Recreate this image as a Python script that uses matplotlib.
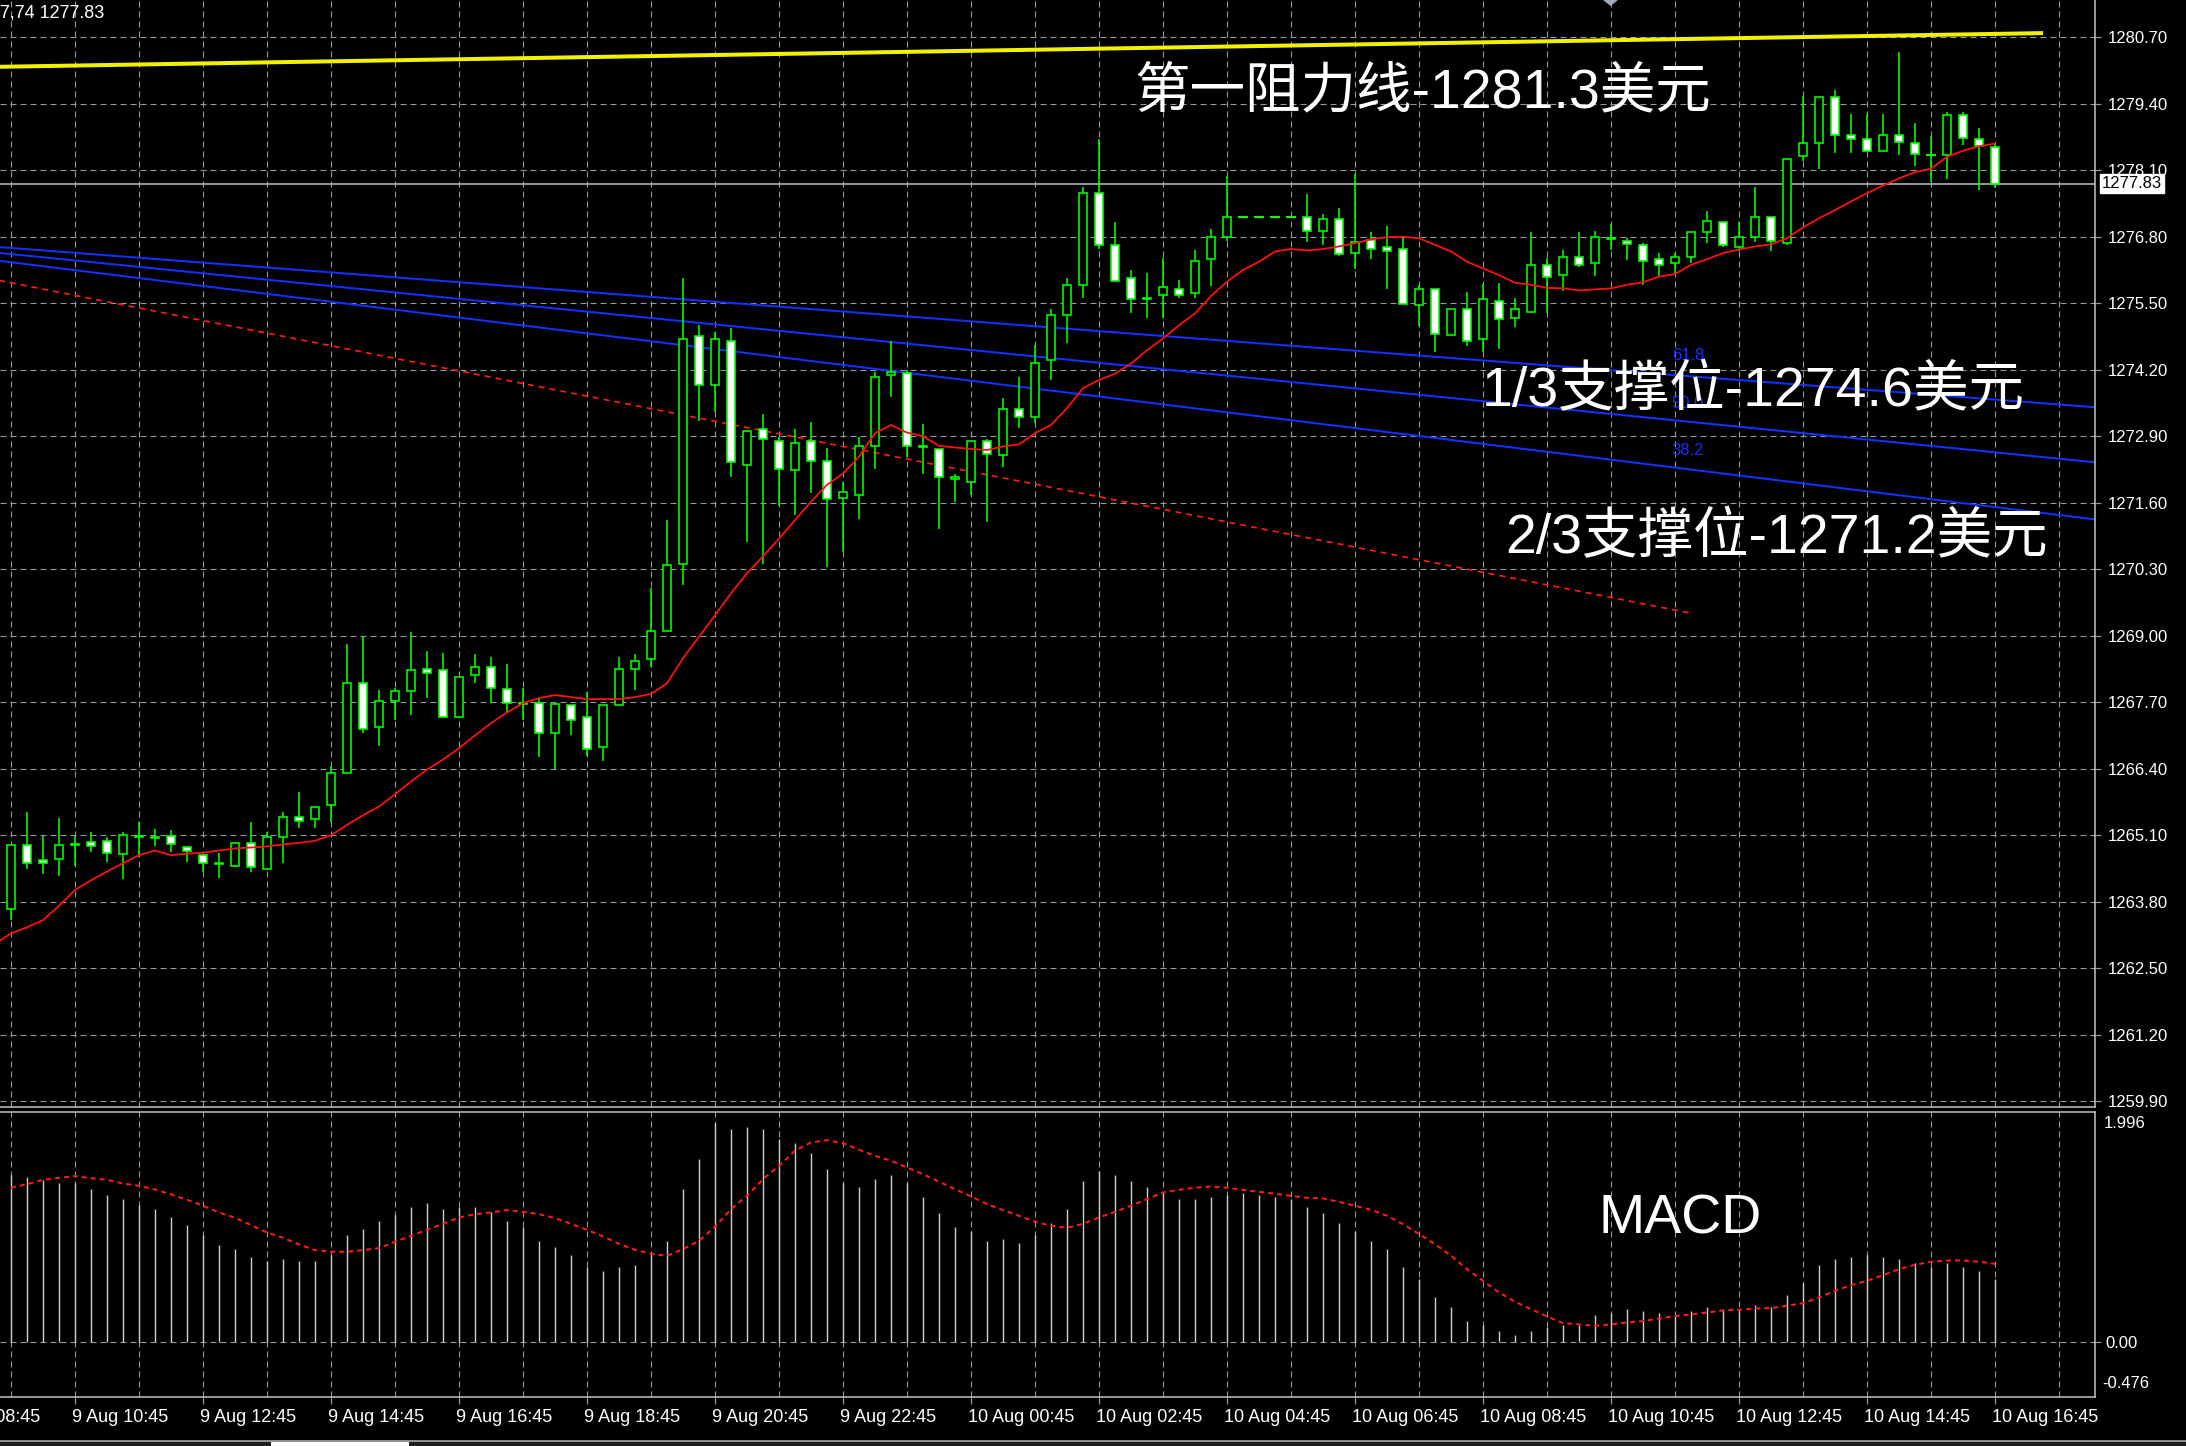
import numpy as np
import matplotlib
matplotlib.use("Agg")
import matplotlib.pyplot as plt
import matplotlib.transforms as mtransforms
from matplotlib.patches import Rectangle, Polygon

# ---------------------------------------------------------------- data
opens = [1263.66, 1264.91, 1264.61, 1264.63, 1264.92, 1264.97, 1264.99, 1264.74, 1265.08, 1265.07,
         1265.09, 1264.87, 1264.71, 1264.56, 1264.50, 1264.95, 1264.43, 1265.06, 1265.46, 1265.42,
         1265.69, 1266.32, 1268.08, 1267.21, 1267.73, 1267.92, 1268.35, 1268.32, 1267.42, 1268.23,
         1268.39, 1267.96, 1267.68, 1267.68, 1267.10, 1267.64, 1267.42, 1266.83, 1267.64, 1268.35,
         1268.54, 1269.10, 1270.41, 1274.85, 1273.90, 1274.77, 1272.34, 1273.04, 1272.81, 1272.23,
         1272.81, 1272.42, 1271.70, 1271.75, 1272.70, 1274.10, 1274.14, 1272.71, 1272.65, 1272.07,
         1272.01, 1272.81, 1272.53, 1273.43, 1273.28, 1274.39, 1275.27, 1275.86, 1277.66, 1276.64,
         1275.99, 1275.60, 1275.66, 1275.78, 1275.69, 1276.36, 1276.79, 1277.19, 1277.19, 1277.19,
         1277.19, 1277.19, 1276.91, 1277.15, 1276.48, 1276.73, 1276.60, 1276.56, 1275.46, 1275.77,
         1274.88, 1275.39, 1274.80, 1275.54, 1275.22, 1275.33, 1276.25, 1276.05, 1276.40, 1276.28,
         1276.75, 1276.72, 1276.64, 1276.36, 1276.28, 1276.41, 1276.89, 1277.08, 1276.59, 1276.80,
         1277.19, 1276.67, 1278.37, 1278.64, 1279.53, 1278.79, 1278.71, 1278.48, 1278.79, 1278.64,
         1278.40, 1278.40, 1279.18, 1278.71, 1278.56]
highs = [1264.91, 1265.55, 1265.08, 1265.43, 1265.10, 1265.16, 1265.07, 1265.16, 1265.35, 1265.22,
         1265.20, 1264.87, 1264.71, 1264.76, 1264.95, 1265.35, 1265.16, 1265.55, 1265.94, 1265.66,
         1266.46, 1268.83, 1268.99, 1267.94, 1267.98, 1269.07, 1268.71, 1268.67, 1268.20, 1268.64,
         1268.59, 1268.44, 1267.97, 1267.78, 1267.69, 1267.64, 1267.89, 1267.64, 1268.59, 1268.64,
         1269.93, 1271.26, 1275.99, 1275.07, 1274.93, 1275.01, 1273.00, 1273.33, 1272.89, 1273.05,
         1273.17, 1272.66, 1272.01, 1272.89, 1274.16, 1274.77, 1274.19, 1273.13, 1272.65, 1272.17,
         1272.81, 1272.85, 1273.64, 1274.06, 1274.68, 1275.39, 1275.99, 1277.78, 1278.71, 1277.08,
         1276.15, 1276.10, 1276.38, 1275.95, 1276.54, 1276.96, 1277.99, 1277.19, 1277.19, 1277.19,
         1277.19, 1277.63, 1277.24, 1277.36, 1278.03, 1276.90, 1277.00, 1276.77, 1275.86, 1275.77,
         1275.39, 1275.71, 1275.87, 1275.90, 1275.60, 1276.89, 1276.38, 1276.54, 1276.89, 1276.92,
         1277.05, 1276.77, 1276.68, 1276.49, 1276.49, 1276.89, 1277.31, 1277.08, 1277.08, 1277.78,
         1277.19, 1278.32, 1279.55, 1279.54, 1279.66, 1279.19, 1279.19, 1279.19, 1280.41, 1279.03,
         1278.76, 1279.23, 1279.23, 1278.92, 1278.62]
lows = [1263.45, 1264.43, 1264.35, 1264.31, 1264.50, 1264.78, 1264.58, 1264.24, 1264.67, 1264.88,
        1264.78, 1264.58, 1264.39, 1264.27, 1264.47, 1264.39, 1264.43, 1264.55, 1265.25, 1265.25,
        1265.36, 1266.32, 1267.09, 1266.85, 1267.35, 1267.44, 1267.79, 1267.42, 1267.42, 1268.07,
        1267.68, 1267.48, 1267.35, 1266.63, 1266.40, 1267.06, 1266.65, 1266.56, 1267.64, 1267.94,
        1268.38, 1269.10, 1269.99, 1273.20, 1273.38, 1272.10, 1270.84, 1270.41, 1271.54, 1271.35,
        1271.78, 1270.34, 1270.63, 1271.28, 1272.25, 1273.66, 1272.50, 1272.17, 1271.08, 1271.62,
        1271.75, 1271.23, 1272.29, 1273.07, 1273.15, 1273.99, 1274.72, 1275.61, 1276.56, 1275.94,
        1275.30, 1275.22, 1275.22, 1275.61, 1275.61, 1275.84, 1276.72, 1277.19, 1277.19, 1277.19,
        1277.19, 1276.70, 1276.63, 1276.43, 1276.16, 1276.36, 1275.77, 1275.48, 1275.06, 1274.55,
        1274.88, 1274.67, 1274.55, 1274.60, 1275.03, 1275.30, 1275.31, 1275.74, 1276.20, 1276.04,
        1276.54, 1276.35, 1275.86, 1276.02, 1276.05, 1276.28, 1276.68, 1276.59, 1276.53, 1276.70,
        1276.52, 1276.64, 1278.28, 1278.12, 1278.43, 1278.43, 1278.48, 1278.48, 1278.39, 1278.19,
        1277.87, 1277.93, 1278.59, 1277.71, 1277.75]
closes = [1264.91, 1264.55, 1264.56, 1264.91, 1264.90, 1264.89, 1264.76, 1265.10, 1265.06, 1265.05,
          1264.92, 1264.80, 1264.55, 1264.54, 1264.95, 1264.48, 1265.07, 1265.46, 1265.38, 1265.66,
          1266.32, 1268.08, 1267.18, 1267.72, 1267.92, 1268.32, 1268.28, 1267.42, 1268.20, 1268.39,
          1267.97, 1267.69, 1267.66, 1267.10, 1267.66, 1267.36, 1266.78, 1267.64, 1268.35, 1268.50,
          1269.10, 1270.38, 1274.80, 1273.90, 1274.80, 1272.39, 1273.00, 1272.84, 1272.26, 1272.77,
          1272.42, 1271.67, 1271.80, 1272.70, 1274.06, 1274.16, 1272.70, 1272.69, 1272.10, 1272.11,
          1272.81, 1272.56, 1273.43, 1273.28, 1274.34, 1275.27, 1275.86, 1277.66, 1276.64, 1275.94,
          1275.58, 1275.58, 1275.82, 1275.66, 1276.32, 1276.79, 1277.19, 1277.19, 1277.19, 1277.19,
          1277.19, 1276.91, 1277.15, 1276.46, 1276.69, 1276.56, 1276.53, 1275.48, 1275.78, 1274.89,
          1275.39, 1274.76, 1275.58, 1275.19, 1275.39, 1276.25, 1276.02, 1276.41, 1276.25, 1276.80,
          1276.77, 1276.65, 1276.33, 1276.25, 1276.41, 1276.89, 1277.11, 1276.64, 1276.79, 1277.19,
          1276.72, 1278.32, 1278.64, 1279.54, 1278.79, 1278.71, 1278.48, 1278.79, 1278.65, 1278.42,
          1278.39, 1279.18, 1278.72, 1278.57, 1277.83]

# moving average, first value belongs to the bar before the first candle
ma_values = [1262.98,
             1263.18, 1263.30, 1263.44, 1263.72, 1264.03, 1264.22, 1264.39, 1264.55, 1264.71, 1264.80,
             1264.71, 1264.74, 1264.76, 1264.80, 1264.84, 1264.86, 1264.88, 1264.92, 1264.95, 1264.99,
             1265.10, 1265.30, 1265.49, 1265.66, 1265.90, 1266.15, 1266.38, 1266.58, 1266.80, 1267.05,
             1267.29, 1267.50, 1267.68, 1267.78, 1267.84, 1267.80, 1267.76, 1267.76, 1267.76, 1267.80,
             1267.86, 1268.07, 1268.56, 1268.98, 1269.40, 1269.83, 1270.22, 1270.55, 1270.90, 1271.26,
             1271.62, 1271.95, 1272.17, 1272.50, 1272.96, 1273.12, 1272.97, 1272.90, 1272.71, 1272.68,
             1272.65, 1272.63, 1272.70, 1272.74, 1272.96, 1273.12, 1273.45, 1273.84, 1274.00, 1274.12,
             1274.32, 1274.58, 1274.81, 1275.07, 1275.30, 1275.64, 1275.92, 1276.15, 1276.31, 1276.51,
             1276.56, 1276.53, 1276.56, 1276.61, 1276.67, 1276.75, 1276.79, 1276.80, 1276.77, 1276.64,
             1276.51, 1276.31, 1276.18, 1276.05, 1275.90, 1275.86, 1275.80, 1275.79, 1275.75, 1275.77,
             1275.79, 1275.86, 1275.91, 1276.02, 1276.07, 1276.25, 1276.36, 1276.48, 1276.55, 1276.61,
             1276.65, 1276.77, 1276.98, 1277.16, 1277.32, 1277.49, 1277.65, 1277.80, 1277.94, 1278.06,
             1278.13, 1278.36, 1278.48, 1278.57, 1278.62]

macd_hist = [1.449, 1.428, 1.405, 1.379, 1.376, 1.327, 1.275, 1.240, 1.188, 1.154,
             1.087, 1.015, 0.928, 0.841, 0.807, 0.737, 0.705, 0.720, 0.703, 0.703,
             0.755, 0.928, 0.980, 1.050, 1.102, 1.174, 1.203, 1.154, 1.174, 1.171,
             1.125, 1.050, 0.998, 0.876, 0.827, 0.755, 0.651, 0.616, 0.651, 0.668,
             0.772, 0.876, 1.327, 1.587, 1.900, 1.848, 1.865, 1.848, 1.761, 1.726,
             1.639, 1.501, 1.379, 1.344, 1.414, 1.449, 1.379, 1.258, 1.119, 0.998,
             0.963, 0.876, 0.893, 0.859, 0.928, 1.032, 1.154, 1.397, 1.480, 1.449,
             1.397, 1.344, 1.292, 1.240, 1.240, 1.258, 1.275, 1.292, 1.275, 1.258,
             1.240, 1.171, 1.119, 1.032, 0.963, 0.876, 0.807, 0.651, 0.546, 0.390,
             0.304, 0.182, 0.147, 0.095, 0.061, 0.095, 0.130, 0.147, 0.147, 0.234,
             0.252, 0.286, 0.269, 0.252, 0.234, 0.269, 0.304, 0.286, 0.286, 0.321,
             0.304, 0.408, 0.512, 0.668, 0.720, 0.737, 0.755, 0.737, 0.720, 0.685,
             0.651, 0.685, 0.651, 0.616, 0.546]
macd_signal = [1.339, 1.370, 1.408, 1.425, 1.440, 1.422, 1.408, 1.376, 1.356, 1.324,
               1.281, 1.235, 1.183, 1.125, 1.078, 1.015, 0.951, 0.905, 0.847, 0.798,
               0.784, 0.784, 0.798, 0.815, 0.870, 0.922, 0.974, 1.026, 1.081, 1.110,
               1.125, 1.145, 1.130, 1.110, 1.076, 1.026, 0.974, 0.917, 0.853, 0.801,
               0.766, 0.749, 0.807, 0.879, 1.000, 1.154, 1.269, 1.414, 1.529, 1.660,
               1.732, 1.752, 1.726, 1.668, 1.616, 1.573, 1.515, 1.457, 1.391, 1.327,
               1.264, 1.197, 1.145, 1.096, 1.044, 1.009, 0.992, 1.026, 1.081, 1.130,
               1.183, 1.240, 1.298, 1.321, 1.339, 1.350, 1.339, 1.321, 1.304, 1.287,
               1.269, 1.252, 1.246, 1.217, 1.183, 1.148, 1.096, 1.024, 0.937, 0.850,
               0.749, 0.633, 0.532, 0.431, 0.350, 0.286, 0.223, 0.165, 0.153, 0.142,
               0.153, 0.171, 0.182, 0.205, 0.226, 0.240, 0.257, 0.275, 0.280, 0.292,
               0.295, 0.315, 0.338, 0.387, 0.445, 0.494, 0.532, 0.581, 0.633, 0.671,
               0.697, 0.708, 0.708, 0.697, 0.679]

# straight-line chart objects: (bar, price) anchor pairs
resistance_bars = [-1, 127]
resistance_prices = [1280.12, 1280.78]
fib_bars = [0, 128]
fib_top = [1276.58, 1273.52]
fib_mid = [1276.46, 1272.46]
fib_low = [1276.30, 1271.36]
fib_level_names = ["61.8", "50.0", "38.2"]
fib_label_prices = [1274.47, 1273.53, 1272.63]
fib_label_bar = 103.8
dotted_bars = [-1, 105]
dotted_prices = [1275.96, 1269.44]
bid_price = 1277.83

price_ticks = [1259.90, 1261.20, 1262.50, 1263.80, 1265.10, 1266.40, 1267.70, 1269.00, 1270.30,
               1271.60, 1272.90, 1274.20, 1275.50, 1276.80, 1278.10, 1279.40, 1280.70]
macd_top, macd_bottom = 1.996, -0.476
time_bars = [-4, 4, 12, 20, 28, 36, 44, 52, 60, 68, 76, 84, 92, 100, 108, 116, 124]
time_labels = ["9 Aug 08:45", "9 Aug 10:45", "9 Aug 12:45", "9 Aug 14:45", "9 Aug 16:45",
               "9 Aug 18:45", "9 Aug 20:45", "9 Aug 22:45", "10 Aug 00:45", "10 Aug 02:45",
               "10 Aug 04:45", "10 Aug 06:45", "10 Aug 08:45", "10 Aug 10:45", "10 Aug 12:45",
               "10 Aug 14:45", "10 Aug 16:45"]

# ---------------------------------------------------------------- layout
W, H, DPI = 2186, 1446, 100
PT = 72.0 / DPI          # points per pixel
BAR_PX, BAR0_PX = 16.0, 11.0
PLOT_RIGHT = 2095
MACD_TOP_PX, MACD_BOTTOM_PX = 1112, 1397

plt.rcParams['lines.scale_dashes'] = False
plt.rcParams['font.family'] = ['Liberation Sans', 'Noto Sans CJK SC', 'DejaVu Sans']

GREEN = '#00ff00'
GRID = '#8f9aa6'
FRAME = '#c4c8cc'
GRID_DASH = (0, (6 * PT, 4 * PT))

fig = plt.figure(figsize=(W / DPI, H / DPI), dpi=DPI, facecolor='black')


def rect(x0, y0, x1, y1):
    return [x0 / W, 1 - y1 / H, (x1 - x0) / W, (y1 - y0) / H]


def fxy(x, y):
    return x / W, 1 - y / H


ax = fig.add_axes(rect(0, 0, PLOT_RIGHT, 1107))
axm = fig.add_axes(rect(0, MACD_TOP_PX, PLOT_RIGHT, MACD_BOTTOM_PX))
xlim = (-BAR0_PX / BAR_PX, (PLOT_RIGHT - BAR0_PX) / BAR_PX)
px_per_unit = 1.30 / 66.5

for a in (ax, axm):
    a.set_facecolor('black')
    for s in a.spines.values():
        s.set_color(FRAME)
        s.set_linewidth(1.5 * PT)
    a.spines['left'].set_visible(False)
    a.tick_params(colors=GRID, labelcolor='white', labelsize=12,
                  width=1.2 * PT, length=6 * PT)
    for b in range(0, 132, 4):
        a.axvline(b, color=GRID, lw=1.1 * PT, ls=GRID_DASH, zorder=0.5)
ax.spines['top'].set_visible(False)

# ---------------------------------------------------------------- price panel
for p in price_ticks:
    ax.axhline(p, color=GRID, lw=1.1 * PT, ls=GRID_DASH, zorder=0.5)

ax.yaxis.tick_right()
ax.set_yticks(price_ticks, [f"{p:.2f}" for p in price_ticks])
ax.tick_params(axis='y', pad=7 * PT)
ax.set_xticks([])

# resistance (yellow)
ax.plot(resistance_bars, resistance_prices, color='#f2f200', lw=4 * PT,
        solid_capstyle='butt', zorder=2)
# fibonacci channel (blue)
for prices in (fib_top, fib_mid, fib_low):
    ax.axline((fib_bars[0], prices[0]), (fib_bars[1], prices[1]), color='#1430ff',
              lw=2 * PT, zorder=2)
for name, p in zip(fib_level_names, fib_label_prices):
    ax.text(fib_label_bar, p, name, color='#1a2cff', fontsize=12, va='center', ha='left',
            zorder=2)
# dotted trend line
ax.plot(dotted_bars, dotted_prices, color='#ff1a1a', lw=1.7 * PT,
        ls=(0, (6 * PT, 5 * PT)), zorder=2)
# bid line
ax.axhline(bid_price, color='#a9b1b9', lw=1.7 * PT, zorder=2)

# candles
half = 0.25
for i, (o, h, l, c) in enumerate(zip(opens, highs, lows, closes)):
    ax.vlines(i, l, h, color=GREEN, lw=1.6 * PT, zorder=3)
    if abs(c - o) < 0.015:
        ax.hlines(o, i - half - 0.05, i + half + 0.05, color=GREEN, lw=2.2 * PT, zorder=4)
        continue
    face = 'black' if c > o else 'white'
    ax.add_patch(Rectangle((i - half, min(o, c)), 2 * half, abs(c - o), facecolor=face,
                           edgecolor=GREEN, lw=1.6 * PT, zorder=4))

# moving average
ax.plot(np.arange(-1, len(ma_values) - 1), ma_values, color='#ff1010', lw=1.8 * PT, zorder=5)

# ---------------------------------------------------------------- MACD panel
axm.axhline(0, color=GRID, lw=1.1 * PT, ls=GRID_DASH, zorder=0.5)
bars = np.arange(len(macd_hist))
axm.vlines(bars, 0, macd_hist, color='#cfcfcf', lw=1.4 * PT, zorder=2)
axm.plot(bars, macd_signal, color='#ff1a1a', lw=2 * PT, ls=(0, (5 * PT, 4 * PT)), zorder=3)
axm.yaxis.tick_right()
axm.set_yticks([0.0], ['0.00'])
axm.tick_params(axis='y', pad=4 * PT)

# time axis: tick marks on visible bars, labels start just left of their tick
visible = [b for b in time_bars if xlim[0] <= b <= xlim[1]]
axm.set_xticks(visible, [''] * len(visible))
axm.tick_params(axis='x', length=7 * PT)
label_y = (MACD_BOTTOM_PX - 1417) / (MACD_BOTTOM_PX - MACD_TOP_PX)
blend = mtransforms.blended_transform_factory(axm.transData, axm.transAxes)
for b, s in zip(time_bars, time_labels):
    axm.text(b - 2.5 / BAR_PX, label_y, s, transform=blend, color='white', fontsize=13,
             ha='left', va='center', clip_on=False)

# view limits set last so tick placement cannot widen them
ax.set_xlim(*xlim)
axm.set_xlim(*xlim)
ax.set_ylim(price_ticks[-1] - (1107 - 37.2) * px_per_unit, price_ticks[-1] + 37.2 * px_per_unit)
axm.set_ylim(macd_bottom, macd_top)

# ---------------------------------------------------------------- annotations
big = dict(color='white', fontsize=40, va='baseline', ha='left')
fig.text(*fxy(1134, 107), "第一阻力线-1281.3美元", **big)
fig.text(*fxy(1482, 406), "1/3支撑位-1274.6美元", **big)
fig.text(*fxy(1505, 553), "2/3支撑位-1271.2美元", **big)
fig.text(*fxy(1599, 1233), "MACD", **big)

fig.text(*fxy(0, 13), "7,74 1277.83", color='white', fontsize=13, va='center', ha='left')
fig.text(*fxy(2102, 183), f"{bid_price:.2f}", color='black', fontsize=12, va='center',
         ha='left', bbox=dict(boxstyle='square,pad=0.12', facecolor='white', edgecolor='white'),
         zorder=10)
fig.text(*fxy(2104, 1124), f"{macd_top:.3f}", color='white', fontsize=12, va='center', ha='left')
fig.text(*fxy(2102, 1384), f"{macd_bottom:.3f}", color='white', fontsize=12, va='center',
         ha='left')

# shift marker and window bottom strip
fig.add_artist(Polygon([fxy(1603, 0), fxy(1618, 0), fxy(1610.5, 6)], closed=True,
                       facecolor='#a0aab4', edgecolor='none', transform=fig.transFigure))
fig.add_artist(Rectangle(fxy(0, 1446), 1, 5 / H, facecolor='#202020', edgecolor='none',
                         transform=fig.transFigure))
fig.add_artist(plt.Line2D([0, 1], [1 - 1441 / H] * 2, color='#b8b8b8', lw=1.5 * PT,
                          transform=fig.transFigure))
fig.add_artist(Rectangle(fxy(271, 1446), 138 / W, 4 / H, facecolor='white', edgecolor='none',
                         transform=fig.transFigure))

fig.savefig('out.png', dpi=DPI, facecolor='black')
